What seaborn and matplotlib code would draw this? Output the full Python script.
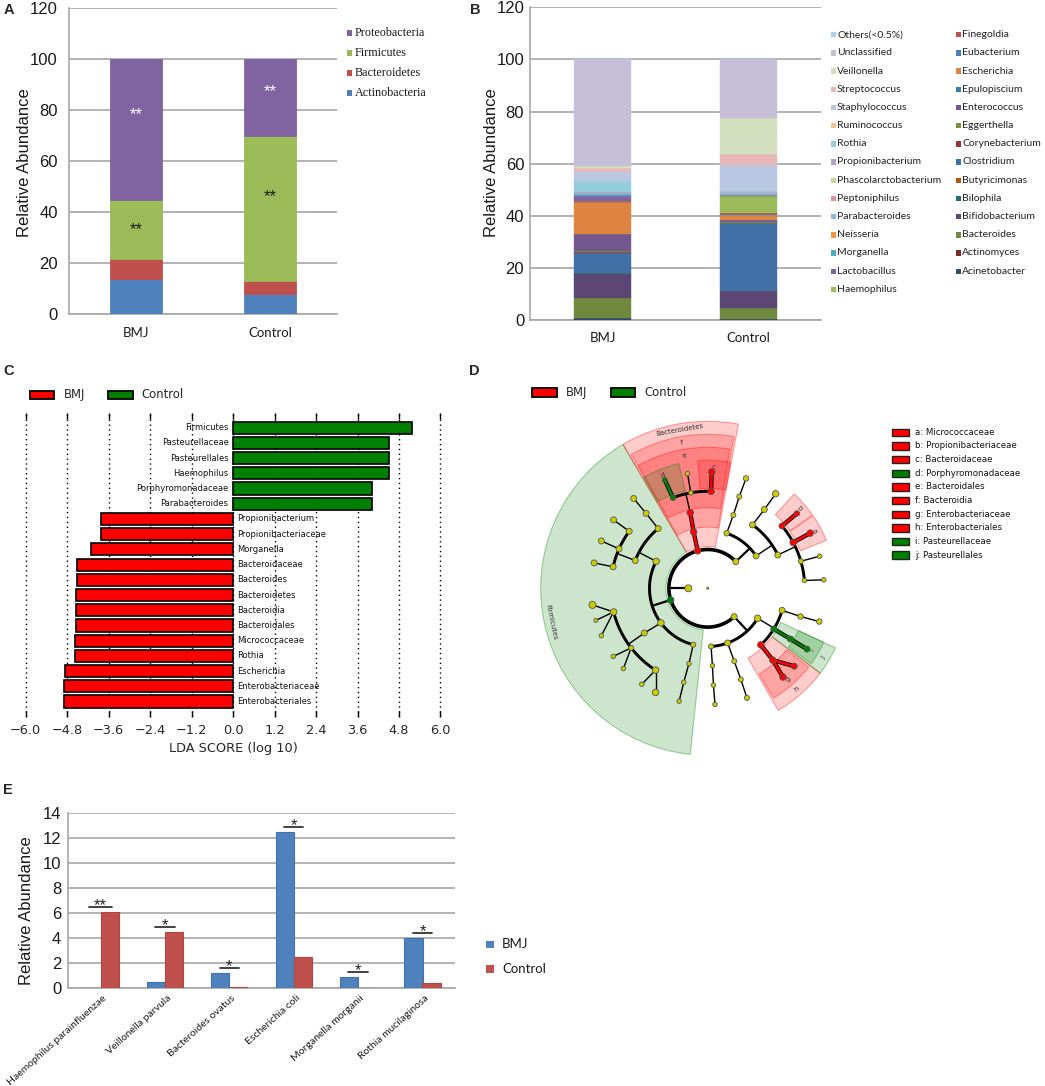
import numpy as np
import pandas as pd
import matplotlib
matplotlib.use("Agg")
import matplotlib.pyplot as plt
import matplotlib.transforms as mtrans
from matplotlib.colors import to_rgba
from matplotlib.patches import Rectangle
import seaborn as sns

W, H = 1045, 1086

# ---------------- data ----------------
groups = ["BMJ", "Control"]

# A: phylum level (stack bottom -> top)
phyla = ["Actinobacteria", "Bacteroidetes", "Firmicutes", "Proteobacteria"]
phyla_bmj = [14.0, 7.8, 23.2, 55.0]
phyla_ctrl = [8.0, 5.0, 57.0, 30.0]
phyla_colors = ["#4f81bd", "#c0504d", "#9bbb59", "#8064a2"]
star_a_group = [0, 0, 1, 1]
star_a_value = [80, 35, 89, 48]
star_a_color = ["white", "#1a1a1a", "white", "#1a1a1a"]

# B: genus level (stack bottom -> top)
genera = ["Acinetobacter", "Actinomyces", "Bacteroides", "Bifidobacterium", "Bilophila",
          "Butyricimonas", "Clostridium", "Corynebacterium", "Eggerthella", "Enterococcus",
          "Epulopiscium", "Escherichia", "Eubacterium", "Finegoldia", "Haemophilus",
          "Lactobacillus", "Morganella", "Neisseria", "Parabacteroides", "Peptoniphilus",
          "Phascolarctobacterium", "Propionibacterium", "Rothia", "Ruminococcus",
          "Staphylococcus", "Streptococcus", "Veillonella", "Unclassified", "Others(<0.5%)"]
genus_bmj = [0.7, 0.1, 7.6, 9.2, 0.3, 0.2, 7.8, 0.2, 0.3, 6.5, 0.2, 12.1, 0.2, 0.1, 0.1,
             1.8, 0.8, 0.2, 0.3, 0.1, 0.1, 0.3, 4.0, 0.2, 3.4, 1.5, 0.9, 40.8, 0.0]
genus_ctrl = [0.2, 0.1, 4.2, 6.6, 0.1, 0.1, 26.0, 0.1, 0.1, 0.7, 0.1, 2.1, 0.2, 0.3, 6.8,
              0.1, 0.1, 0.1, 1.0, 0.1, 0.1, 0.1, 0.1, 0.1, 10.1, 4.1, 13.8, 22.5, 0.0]
genus_colors = ["#2c4d75", "#772c2a", "#71893f", "#5c4673", "#276a7c",
                "#b65708", "#4170a6", "#953735", "#77933c", "#72588f",
                "#31859c", "#dd8443", "#4a7ebb", "#c0504d", "#9bbb59",
                "#8064a2", "#4bacc6", "#f79646", "#95b3d7", "#d99694",
                "#c3d69b", "#b3a2c7", "#93cddd", "#fac090",
                "#b9c7e2", "#e6b9b8", "#d3e0c0", "#c7bfd8", "#a9d4e6"]

# C: LDA scores
lda_features = ["Firmicutes", "Pasteurellaceae", "Pasteurellales", "Haemophilus",
                "Porphyromonadaceae", "Parabacteroides", "Propionibacterium",
                "Propionibacteriaceae", "Morganella", "Bacteroidaceae", "Bacteroides",
                "Bacteroidetes", "Bacteroidia", "Bacteroidales", "Micrococcaceae", "Rothia",
                "Escherichia", "Enterobacteriaceae", "Enterobacteriales"]
lda_scores = [5.18, 4.51, 4.51, 4.51, 4.03, 4.03, -3.81, -3.82, -4.11, -4.52, -4.52,
              -4.54, -4.54, -4.54, -4.58, -4.58, -4.85, -4.90, -4.90]
lda_group = ["Control"] * 6 + ["BMJ"] * 13
lda_ticks = [-6.0, -4.8, -3.6, -2.4, -1.2, 0.0, 1.2, 2.4, 3.6, 4.8, 6.0]

# D: cladogram nodes (parent, angle deg, level, color, node diameter px)
node_parent = [-1, -1, 1, 1, 1, 1,
               2, 2, 6, 8, 9, 7, 7, 11, 13, 12, 12, 12, 12, 15, 16, 17, 18,
               3, 23, 24, 24, 24, 25, 26, 27,
               4, 4, 4, 31, 31, 34, 34, 34, 36, 37, 38, 35, 42, 32, 44, 44, 44,
               45, 45, 45, 46, 46, 47, 47, 33, 55, 56,
               5, 5, 5, 58, 58, 58, 61, 64, 62, 66, 63, 68, 68, 59, 71, 72, 60, 74, 75]
node_angle = [0, 180, 43.5, 105, 197.5, 313,
              71, 33.8, 70.7, 71, 70.8, 54.8, 25.4, 54.3, 54.3, 40, 28.2, 16.2, 4.6, 40, 28.3, 16, 4.2,
              104, 103, 111, 100, 88, 111.6, 100, 88,
              152.4, 216.5, 255.6, 159, 129.7, 144, 156, 167.2, 144, 156, 167.4, 129.4, 129.5,
              215.2, 194.1, 217.9, 237.5, 188.2, 196, 204, 215.8, 223.6, 235.5, 243.4,
              256, 255.7, 255.8,
              329, 290, 273.3, 343.5, 328.4, 313.2, 343.1, 343.4, 328.5, 328.5, 312.2, 318, 310.3,
              290, 290, 289.7, 273.5, 273.4, 273.6]
node_level = [0, 1, 2, 2, 2, 2,
              3, 3, 4, 5, 6, 4, 4, 5, 6, 5, 5, 5, 5, 6, 6, 6, 6,
              3, 4, 5, 5, 5, 6, 6, 6,
              3, 3, 3, 4, 4, 5, 5, 5, 6, 6, 6, 5, 6, 4, 5, 5, 5, 6, 6, 6, 6, 6, 6, 6,
              4, 5, 6,
              3, 3, 3, 4, 4, 4, 5, 6, 5, 6, 5, 6, 6, 4, 5, 6, 4, 5, 6]
node_color = ["y", "y", "y", "r", "g", "y",
              "y", "y", "y", "y", "y", "y", "y", "y", "y", "r", "r", "y", "y", "r", "r", "y", "y",
              "r", "r", "g", "y", "r", "g", "y", "r",
              "y", "y", "y", "y", "y", "y", "y", "y", "y", "y", "y", "y", "y",
              "y", "y", "y", "y", "y", "y", "y", "y", "y", "y", "y", "y", "y", "y",
              "y", "y", "y", "y", "g", "r", "y", "y", "g", "g", "r", "r", "r",
              "y", "y", "y", "y", "y", "y"]
node_size = [2, 7, 6, 6.5, 6.5, 6,
             5.5, 6, 5, 5, 5.5, 6, 6, 6, 6.5, 6, 6.5, 5, 4.5, 5.5, 6.5, 4.5, 4.5,
             6.5, 6.5, 5.5, 4.5, 6.5, 5, 4.5, 6.5,
             6.5, 6.5, 5, 6, 6, 6, 6, 6, 6, 6, 6, 6, 6,
             6, 6.5, 5, 6.5, 7, 4, 4.5, 4.5, 4.5, 4.5, 6.5,
             4.5, 4.5, 4.5,
             6.5, 6, 5, 6, 6, 6.5, 5.5, 5.5, 6, 6, 6.5, 6, 6.5,
             5, 5, 5, 4.5, 4.5, 4.5]

# D: shaded clades
clade_label = ["Firmicutes", "Bacteroidetes", "f", "e", "c", "d", "b", "a", "h", "g", "j", "i"]
clade_level = [2, 2, 3, 4, 5, 5, 5, 5, 4, 5, 4, 5]
clade_t0 = [120.5, 79.4, 80.2, 81.0, 79.6, 103.0, 35.0, 22.0, 300.0, 301.0, 323.0, 324.0]
clade_t1 = [264.0, 120.5, 119.8, 119.4, 94.4, 120.0, 47.5, 34.6, 323.0, 322.0, 335.0, 335.0]
clade_color = ["g", "r", "r", "r", "r", "g", "r", "r", "r", "r", "g", "g"]
clade_legend = ["a: Micrococcaceae", "b: Propionibacteriaceae", "c: Bacteroidaceae",
                "d: Porphyromonadaceae", "e: Bacteroidales", "f: Bacteroidia",
                "g: Enterobacteriaceae", "h: Enterobacteriales", "i: Pasteurellaceae",
                "j: Pasteurellales"]
clade_legend_color = ["r", "r", "r", "g", "r", "r", "r", "r", "g", "g"]

# E: species level
species = ["Haemophilus parainfluenzae", "Veillonella parvula", "Bacteroides ovatus",
           "Escherichia coli", "Morganella morganii", "Rothia mucilaginosa"]
abund_bmj = [0.05, 0.53, 1.25, 12.53, 0.92, 4.02]
abund_ctrl = [6.10, 4.53, 0.07, 2.53, 0.0, 0.42]
sig = ["**", "*", "*", "*", "*", "*"]

# ---------------- style ----------------
sns.set_theme(style="white")
plt.rcParams["font.family"] = ["DejaVu Sans"]
SANS = ["Liberation Sans", "DejaVu Sans"]
CAL = ["Lato", "DejaVu Sans"]
SERIF = ["Liberation Serif", "DejaVu Serif"]
GRID = "#a6a6a6"
LC = {"r": "#ff0000", "g": "#008000", "y": "#cccc00"}

fig = plt.figure(figsize=(W / 100, H / 100), dpi=100)
fig.patch.set_facecolor("white")


def px_axes(x0, y0, x1, y1, **kw):
    return fig.add_axes([x0 / W, 1 - y1 / H, (x1 - x0) / W, (y1 - y0) / H], **kw)


def ftext(x, y, s, **kw):
    fig.text(x / W, 1 - y / H, s, **kw)


def frect(x0, y0, x1, y1, fc, ec="none", lw=0):
    fig.add_artist(Rectangle((x0 / W, 1 - y1 / H), (x1 - x0) / W, (y1 - y0) / H,
                             transform=fig.transFigure, facecolor=fc, edgecolor=ec, linewidth=lw))


def excel_style(ax, ymax, step, ncat, labels, minor_ticks=False):
    ax.set_xlim(-0.5, ncat - 0.5)
    ax.set_ylim(0, ymax)
    ax.set_yticks(np.arange(0, ymax + 0.01, step))
    ax.set_yticklabels([str(int(v)) for v in np.arange(0, ymax + 0.01, step)])
    ax.yaxis.grid(True, color=GRID, lw=1.2)
    ax.xaxis.grid(False)
    ax.set_axisbelow(True)
    for s in ["top", "right"]:
        ax.spines[s].set_visible(False)
    for s in ["left", "bottom"]:
        ax.spines[s].set_color(GRID)
        ax.spines[s].set_linewidth(1.2)
    ax.set_xticks(range(ncat))
    ax.set_xticklabels(labels)
    ax.tick_params(axis="both", length=0)
    if minor_ticks:
        ax.set_xticks(np.arange(-0.5, ncat, 1.0), minor=True)
        ax.tick_params(axis="x", which="minor", length=6, color=GRID, width=1.2, direction="out")
    for lab in ax.get_yticklabels():
        lab.set_fontfamily(SANS)
        lab.set_fontsize(12)
        lab.set_color("#1a1a1a")
    for lab in ax.get_xticklabels():
        lab.set_fontfamily(CAL)
        lab.set_fontsize(9.5)
        lab.set_color("#1a1a1a")


# ---------------- panel A ----------------
axA = px_axes(69, 8.3, 337, 314.3)
xg = np.arange(len(groups))
base = np.zeros(len(groups))
for name, vb, vc, col in zip(phyla, phyla_bmj, phyla_ctrl, phyla_colors):
    vals = np.array([vb, vc])
    axA.bar(xg, vals, width=0.39, bottom=base, color=col, edgecolor=col, linewidth=0.6, zorder=3)
    base += vals
excel_style(axA, 120, 20, 2, groups, minor_ticks=True)
axA.tick_params(axis="y", pad=8)
axA.tick_params(axis="x", which="major", pad=9)
for g, v, c in zip(star_a_group, star_a_value, star_a_color):
    axA.annotate("**", (g, v), xytext=(0, -6.5), textcoords="offset points", ha="center",
                 va="baseline", fontsize=12, color=c, family=SANS, zorder=5)
ftext(25, 162.7, "Relative Abundance", rotation=90, ha="center", va="center",
      fontsize=12, family=SANS, color="#1a1a1a")
for i, name in enumerate(phyla[::-1]):
    y = 33.3 + 19.8 * i
    col = phyla_colors[::-1][i]
    frect(346.7, y - 2.8, 352.2, y + 2.8, col)
    ftext(355, y, name, ha="left", va="center", fontsize=8.7, family=SERIF, color="#1a1a1a")

# ---------------- panel B ----------------
axB = px_axes(529.8, 7.3, 821.3, 320)
base = np.zeros(len(groups))
for name, vb, vc, col in zip(genera, genus_bmj, genus_ctrl, genus_colors):
    vals = np.array([vb, vc])
    axB.bar(xg, vals, width=0.39, bottom=base, color=col, edgecolor=col, linewidth=0.3, zorder=3)
    base += vals
excel_style(axB, 120, 20, 2, groups, minor_ticks=True)
axB.tick_params(axis="y", pad=4)
axB.tick_params(axis="x", which="major", pad=9)
ftext(491, 162.7, "Relative Abundance", rotation=90, ha="center", va="center",
      fontsize=12, family=SANS, color="#1a1a1a")
leg_names = genera[::-1]
leg_cols = genus_colors[::-1]
for i, (name, col) in enumerate(zip(leg_names, leg_cols)):
    c = 0 if i < 15 else 1
    k = i if i < 15 else i - 15
    y = 34.6 + 18.2 * k
    xs = [830.5, 955.9][c]
    frect(xs, y - 2.7, xs + 5.4, y + 2.7, col)
    ftext(xs + 6.5, y, name, ha="left", va="center", fontsize=7.5, family=CAL, color="#222222")

# ---------------- panel C ----------------
unit = (440.5 - 25.7) / 12.0
axC = px_axes(25.7 - 0.3 * unit, 413.3, 440.5 + 0.3 * unit, 716.7)
df_c = pd.DataFrame({"feature": lda_features, "score": lda_scores, "group": lda_group})
pal_c = {f: (LC["g"] if g == "Control" else LC["r"]) for f, g in zip(lda_features, lda_group)}
sns.barplot(data=df_c, y="feature", x="score", hue="feature", palette=pal_c, orient="h",
            width=0.8, edgecolor="black", linewidth=1.2, saturation=1, errorbar=None,
            legend=False, ax=axC, zorder=3)
axC.set_xlim(-6.3, 6.3)
axC.set_ylim(len(lda_features) - 1 + 1.0, -0.95)
axC.set_xticks(lda_ticks)
axC.set_xticklabels([("%.1f" % v).replace("-", "\u2212") for v in lda_ticks])
axC.set_yticks([])
axC.set_xlabel("")
axC.set_ylabel("")
for s in axC.spines.values():
    s.set_visible(False)
axC.xaxis.grid(True, color="black", lw=1.0, linestyle=(0, (1, 2.5)))
axC.yaxis.grid(False)
axC.set_axisbelow(True)
axC.tick_params(axis="x", which="major", direction="in", length=4, width=1, color="black",
                top=True, bottom=True, labelsize=9.3, pad=5)
for i, (f, s) in enumerate(zip(lda_features, lda_scores)):
    if s > 0:
        axC.text(-0.13, i, f, ha="right", va="center", fontsize=6, color="#111111")
    else:
        axC.text(0.13, i, f, ha="left", va="center", fontsize=6, color="#111111")
ftext(233, 748.3, "LDA SCORE (log 10)", ha="center", va="center", fontsize=9.3)
frect(30, 390.5, 54.3, 399, LC["r"], ec="black", lw=1.3)
ftext(64, 394.8, "BMJ", ha="left", va="center", fontsize=8.4)
frect(108.3, 390.5, 132.7, 399, LC["g"], ec="black", lw=1.3)
ftext(141.7, 394.8, "Control", ha="left", va="center", fontsize=8.4)

# ---------------- panel D ----------------
cx, cy, RMAX = 707.7, 588.3, 170.0
axD = px_axes(cx - RMAX, cy - RMAX, cx + RMAX, cy + RMAX, projection="polar")
axD.set_ylim(0, RMAX)
axD.set_axis_off()
STEP = 19.4


def lev_r(level):
    return STEP * level


def outer_r(level):
    return 167.0 - (level - 2) * 13.0


def straight(t0, r0, t1, r1, n=30):
    # straight segment in screen space, returned in polar coordinates
    x = np.linspace(r0 * np.cos(t0), r1 * np.cos(t1), n)
    y = np.linspace(r0 * np.sin(t0), r1 * np.sin(t1), n)
    return np.arctan2(y, x), np.hypot(x, y)


def draw_line(th, r, col, lw, outline):
    if outline:
        axD.plot(th, r, color="black", lw=lw + 1.2, solid_capstyle="round", zorder=2)
    axD.plot(th, r, color=col, lw=lw, solid_capstyle="round", zorder=2.1)


for lab, lv, t0, t1, c in zip(clade_label, clade_level, clade_t0, clade_t1, clade_color):
    r_in = lev_r(lv) + 3.0
    r_out = outer_r(lv)
    axD.bar(np.deg2rad((t0 + t1) / 2), r_out - r_in, width=np.deg2rad(t1 - t0), bottom=r_in,
            facecolor=to_rgba(LC[c], 0.2), edgecolor=to_rgba(LC[c], 0.35), linewidth=0.8, zorder=1)
    tm = (t0 + t1) / 2
    rot = tm - 90
    if rot < -90:
        rot += 180
    if rot > 90:
        rot -= 180
    axD.text(np.deg2rad(tm), r_out - 6.5, lab, rotation=rot, rotation_mode="anchor",
             ha="center", va="center", fontsize=5, color="#333333", zorder=2)

children = {i: [] for i in range(len(node_parent))}
for i, p in enumerate(node_parent):
    if p >= 0:
        children[p].append(i)

for p, kids in children.items():
    if not kids:
        continue
    rp = lev_r(node_level[p])
    rc = lev_r(node_level[kids[0]])
    tp = np.deg2rad(node_angle[p])
    angs = [node_angle[k] for k in kids] + [node_angle[p]]
    span = max(angs) - min(angs)
    pc = node_color[p]
    if node_level[p] == 1 or (len(kids) > 1 and span > 20):
        # bracket arc at the children's radius
        colored = pc != "y" and all(node_color[k] == pc for k in kids)
        col = LC[pc] if colored else "black"
        arc = np.deg2rad(np.linspace(min(angs), max(angs), 90))
        draw_line(arc, np.full_like(arc, rc), col, 2.6 if node_level[p] == 1 else 2.1, colored)
        draw_line(np.array([tp, tp]), np.array([rp, rc]), col,
                  1.6 if node_level[p] <= 2 else 1.0, colored)
    else:
        for k in kids:
            colored = pc != "y" and node_color[k] == pc
            col = LC[pc] if colored else "black"
            t_, r_ = straight(tp, rp, np.deg2rad(node_angle[k]), lev_r(node_level[k]))
            draw_line(t_, r_, col, 1.9 if colored else 1.0, colored)

th = np.deg2rad(np.array(node_angle))
rr = np.array([lev_r(l) for l in node_level])
sz = (np.array(node_size) * 0.72) ** 2
cols = [LC[c] for c in node_color]
order = sorted(range(len(th)), key=lambda i: node_color[i] != "y")
axD.scatter(th[order], rr[order], s=sz[order], c=[cols[i] for i in order],
            edgecolors="#555555", linewidths=0.6, zorder=3)

frect(532.3, 388.3, 556.8, 397, LC["r"], ec="black", lw=1.3)
ftext(565.8, 392.8, "BMJ", ha="left", va="center", fontsize=8.4)
frect(610.5, 388.3, 635, 397, LC["g"], ec="black", lw=1.3)
ftext(644, 392.8, "Control", ha="left", va="center", fontsize=8.4)
for i, (name, c) in enumerate(zip(clade_legend, clade_legend_color)):
    y = 432.3 + 13.65 * i
    frect(891.5, y - 3.7, 908.8, y + 3.7, LC[c], ec="#222222", lw=1.0)
    ftext(915, y, name, ha="left", va="center", fontsize=6.2, color="#111111")

# ---------------- panel E ----------------
axE = px_axes(68.3, 813.3, 454.7, 988.3)
df_e = pd.DataFrame({"species": species * 2,
                     "group": ["BMJ"] * len(species) + ["Control"] * len(species),
                     "abund": abund_bmj + abund_ctrl})
sns.barplot(data=df_e, x="species", y="abund", hue="group", hue_order=groups,
            palette=["#4f81bd", "#c0504d"], width=0.56, saturation=1, errorbar=None,
            linewidth=0.0, legend=False, ax=axE, zorder=3)
for patch, col in zip(axE.patches, ["#3f72b0"] * 6 + ["#b04542"] * 6):
    patch.set_edgecolor(col)
    patch.set_linewidth(0.8)
excel_style(axE, 14, 2, len(species), species)
axE.set_xlabel("")
axE.set_ylabel("")
axE.tick_params(axis="y", pad=5)
axE.tick_params(axis="x", pad=6)
shift = mtrans.ScaledTranslation(5 / 100, 0, fig.dpi_scale_trans)
for lab in axE.get_xticklabels():
    lab.set_rotation(42)
    lab.set_ha("right")
    lab.set_va("center")
    lab.set_rotation_mode("anchor")
    lab.set_fontsize(7.5)
    lab.set_transform(lab.get_transform() + shift)
for i, (b, c, s) in enumerate(zip(abund_bmj, abund_ctrl, sig)):
    y = max(b, c) + 0.4
    half = 0.18 if len(s) > 1 else 0.15
    axE.plot([i - half, i + half], [y, y], color="#333333", lw=1.3, zorder=4)
    axE.annotate(s, (i, y), xytext=(0, -2.5), textcoords="offset points", ha="center",
                 va="baseline", fontsize=12, family=SANS, color="#222222", zorder=5)
ftext(26.7, 910.8, "Relative Abundance", rotation=90, ha="center", va="center",
      fontsize=12, family=SANS, color="#1a1a1a")
for i, (name, col) in enumerate(zip(groups, ["#4f81bd", "#c0504d"])):
    y = 944.3 + 24.7 * i
    frect(486.4, y - 3.8, 494.3, y + 3.8, col)
    ftext(502, y, name, ha="left", va="center", fontsize=9.5, family=CAL, color="#1a1a1a")

# ---------------- panel letters ----------------
for lt, x, y in [("A", 9, 10), ("B", 475, 10), ("C", 9, 371), ("D", 474, 371), ("E", 8, 790)]:
    ftext(x, y, lt, ha="center", va="center", fontsize=10.5, fontweight="bold", family=SANS)

fig.savefig("out.png", dpi=100)
